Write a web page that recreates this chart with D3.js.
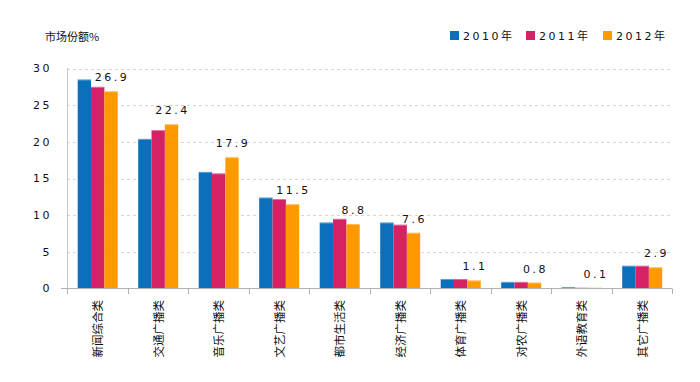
<!DOCTYPE html>
<html>
<head>
<meta charset="utf-8">
<script src="https://cdn.jsdelivr.net/npm/d3@7"></script>
<style>
  body { margin: 0; background: #fff; }
  text { font-family: "DejaVu Sans", "Noto Sans CJK SC", sans-serif; fill: #111; }
</style>
</head>
<body>
<script>
  // categories and series
  var categories = ["新闻综合类", "交通广播类", "音乐广播类", "文艺广播类", "都市生活类",
                    "经济广播类", "体育广播类", "对农广播类", "外语教育类", "其它广播类"]
  var years = ["2010年", "2011年", "2012年"]
  var v2010 = [28.5, 20.4, 15.9, 12.4, 9.0, 9.0, 1.3, 0.9, 0.2, 3.1]
  var v2011 = [27.5, 21.6, 15.7, 12.2, 9.5, 8.7, 1.3, 0.9, 0.1, 3.1]
  var v2012 = [26.9, 22.4, 17.9, 11.5, 8.8, 7.6, 1.1, 0.8, 0.1, 2.9]
  var yTicks = [0, 5, 10, 15, 20, 25, 30]
  var colors = ["#0a70bc", "#d42264", "#ff9900"]

  var width = 700
  var height = 382
  var series = [v2010, v2011, v2012]

  var svg = d3.select("body")
      .append("svg")
      .attr("width", width)
      .attr("height", height)

  // scales
  var x = d3.scaleBand().domain(categories).range([67, 672])
  var xs = d3.scaleBand().domain(years).range([10.7, 50.7])
  var y = d3.scaleLinear().domain([0, 30]).range([288.5, 68.5])

  // grid lines
  svg.selectAll(".grid")
      .data(yTicks.slice(1))
      .enter()
      .append("line")
      .attr("x1", 67)
      .attr("x2", 672)
      .attr("y1", function(d) { return Math.round(y(d)) + 0.5 })
      .attr("y2", function(d) { return Math.round(y(d)) + 0.5 })
      .attr("stroke", "#d4d4d4")
      .attr("stroke-dasharray", "3,3")

  // y tick labels
  svg.selectAll(".ylab")
      .data(yTicks)
      .enter()
      .append("text")
      .attr("x", 52)
      .attr("y", function(d) { return y(d) })
      .attr("dy", "0.35em")
      .attr("text-anchor", "end")
      .attr("font-size", 11)
      .attr("letter-spacing", 2.5)
      .text(function(d) { return d })

  // bars
  var groups = svg.selectAll(".grp")
      .data(categories)
      .enter()
      .append("g")
      .attr("transform", function(d) { return "translate(" + x(d) + ",0)" })

  groups.selectAll("rect")
      .data(function(d, i) {
          return years.map(function(yr, j) { return {year: yr, value: series[j][i], j: j} })
      })
      .enter()
      .append("rect")
      .attr("x", function(d) { return xs(d.year) })
      .attr("width", xs.bandwidth())
      .attr("y", function(d) { return y(d.value) })
      .attr("height", function(d) { return y(0) - y(d.value) })
      .attr("fill", function(d) { return colors[d.j] })

  // light top edge on bars
  groups.selectAll(".hl")
      .data(function(d, i) {
          return years.map(function(yr, j) { return {year: yr, value: series[j][i], j: j} })
      })
      .enter()
      .append("rect")
      .attr("x", function(d) { return xs(d.year) })
      .attr("width", xs.bandwidth())
      .attr("y", function(d) { return y(d.value) })
      .attr("height", 1)
      .attr("fill", "#fff")
      .attr("opacity", 0.35)

  // value labels for 2012
  groups.append("text")
      .attr("x", function(d, i) { return xs("2012年") + xs.bandwidth() / 2 + 1 })
      .attr("y", function(d, i) { return y(v2012[i]) - 10 })
      .attr("text-anchor", "middle")
      .attr("font-size", 11)
      .attr("letter-spacing", 2.5)
      .text(function(d, i) { return v2012[i] })

  // axes lines
  svg.append("line")
      .attr("x1", 67).attr("x2", 672)
      .attr("y1", 288.5).attr("y2", 288.5)
      .attr("stroke", "#b0b0b0")
  svg.append("line")
      .attr("x1", 67.5).attr("x2", 67.5)
      .attr("y1", 68).attr("y2", 294)
      .attr("stroke", "#c8c8c8")
  svg.append("line")
      .attr("x1", 61).attr("x2", 67)
      .attr("y1", 288.5).attr("y2", 288.5)
      .attr("stroke", "#b0b0b0")

  var bounds = categories.map(function(c) { return x(c) }).concat([672])
  svg.selectAll(".xtick")
      .data(bounds)
      .enter()
      .append("line")
      .attr("x1", function(d) { return Math.round(d) + 0.5 })
      .attr("x2", function(d) { return Math.round(d) + 0.5 })
      .attr("y1", 288.5)
      .attr("y2", 294)
      .attr("stroke", "#b0b0b0")

  // category labels, rotated
  svg.selectAll(".xlab")
      .data(categories)
      .enter()
      .append("text")
      .attr("transform", function(d) {
          return "translate(" + (x(d) + x.bandwidth() / 2 + 1) + ",300) rotate(-90)"
      })
      .attr("dy", "0.35em")
      .attr("text-anchor", "end")
      .attr("font-size", 11.5)
      .style("font-family", "'Noto Sans CJK SC', sans-serif")
      .text(function(d) { return d })

  // title
  svg.append("text")
      .attr("x", 45)
      .attr("y", 41)
      .attr("font-size", 11)
      .style("font-family", "'Noto Sans CJK SC', sans-serif")
      .text("市场份额%")

  // legend
  var legendX = [450, 526, 603]
  var legend = svg.selectAll(".leg")
      .data(years)
      .enter()
      .append("g")
      .attr("transform", function(d, i) { return "translate(" + legendX[i] + ",31)" })
  legend.append("rect")
      .attr("width", 9)
      .attr("height", 9)
      .attr("fill", function(d, i) { return colors[i] })
  legend.append("text")
      .attr("x", 13)
      .attr("y", 9)
      .attr("font-size", 11)
      .attr("letter-spacing", 2.5)
      .text(function(d) { return d })
</script>
</body>
</html>
